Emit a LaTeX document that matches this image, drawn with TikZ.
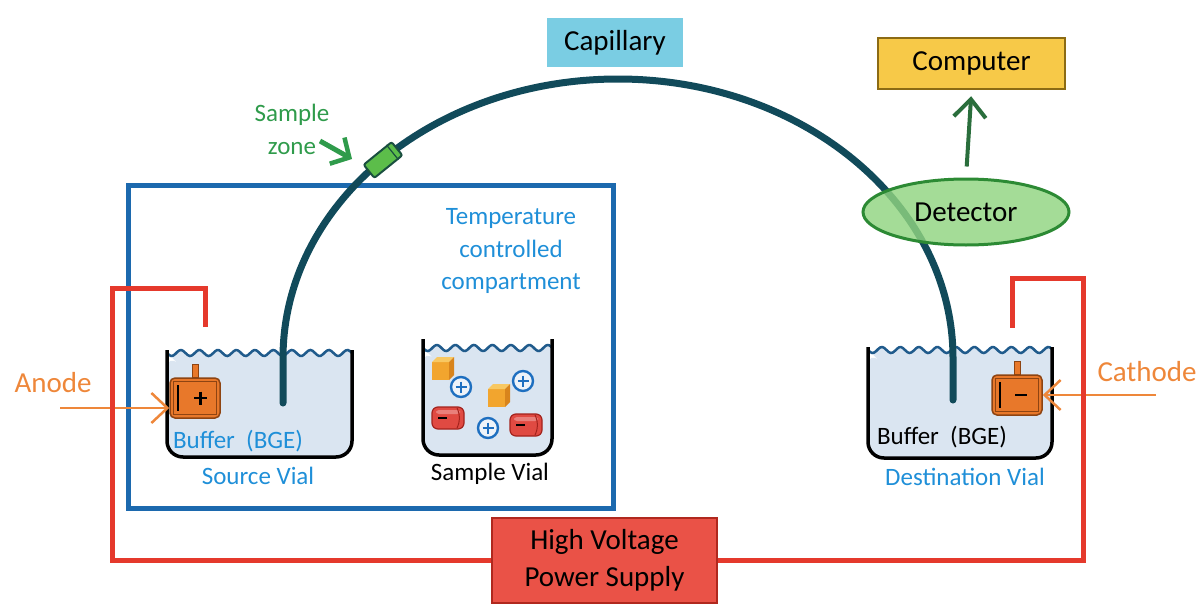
\documentclass[tikz,border=0pt]{standalone}
\usepackage{fontspec}
\setmainfont{Carlito}
\usetikzlibrary{arrows.meta,shapes.geometric,calc}

\definecolor{capline}{HTML}{114A5A}
\definecolor{capbox}{HTML}{7ACDE3}
\definecolor{compfill}{HTML}{F7C948}
\definecolor{compdraw}{HTML}{8C6B14}
\definecolor{detfill}{HTML}{90D480}
\definecolor{detdraw}{HTML}{2C8A34}
\definecolor{arrowgreen}{HTML}{2A6E3C}
\definecolor{wirered}{HTML}{E5392C}
\definecolor{hvfill}{HTML}{EA5247}
\definecolor{hvdraw}{HTML}{B0281E}
\definecolor{compblue}{HTML}{1C69AE}
\definecolor{textblue}{HTML}{1F8FD8}
\definecolor{textorange}{HTML}{EE873A}
\definecolor{electrodefill}{HTML}{E8782A}
\definecolor{electrodedraw}{HTML}{8E4412}
\definecolor{zonegreen}{HTML}{2F9B4B}
\definecolor{zonefill}{HTML}{5CBD4A}
\definecolor{zonedraw}{HTML}{1A4F40}
\definecolor{vialfill}{HTML}{DAE5F1}
\definecolor{wavecol}{HTML}{205B8C}
\definecolor{plusblue}{HTML}{1E6FC0}
\definecolor{minusred}{HTML}{E04A42}
\definecolor{minusdark}{HTML}{A3231D}
\definecolor{cubefront}{HTML}{F2A52E}
\definecolor{cubetop}{HTML}{F8C862}
\definecolor{cubeside}{HTML}{D8841C}

\begin{document}
\begin{tikzpicture}[x=1pt,y=-1pt,
  lbl/.style={font=\fontsize{29}{34}\selectfont, text=black},
  sml/.style={font=\fontsize{25}{30}\selectfont},
  labelbox/.style={lbl, rectangle, inner sep=0, align=center},
  electrodebox/.style={draw=electrodedraw, fill=electrodefill, line width=1.5,
    rounded corners=5, minimum width=50, minimum height=40, inner sep=0},
  wire/.style={draw=wirered, line width=5},
  vialwall/.style={draw=black, line width=3.5},
  wave/.style={draw=wavecol, line width=2.5},
  capillary/.style={draw=capline, line width=7, line cap=round},
  orangearrow/.style={draw=textorange, line width=2.5, -{Straight Barb[length=16pt,width=30pt,line width=2.5pt]}},
  cubepic/.pic={
    \fill[cubefront] (-10,-7) rectangle (7,11);
    \fill[cubetop] (-10,-7) -- (-5,-12) -- (12,-12) -- (7,-7) -- cycle;
    \fill[cubeside] (7,-7) -- (12,-12) -- (12,6) -- (7,11) -- cycle;
  },
  pluspic/.pic={
    \draw[plusblue, line width=2.4, fill=white!55!vialfill] (0,0) circle (10);
    \draw[plusblue, line width=2.6] (-5.5,0) -- (5.5,0) (0,-5.5) -- (0,5.5);
  },
  minuspic/.pic={
    \filldraw[draw=minusdark, fill=minusred, line width=1.2, rounded corners=6] (-16,-11) rectangle (16,11);
    \fill[white, opacity=.3, rounded corners=3] (-12,-8) rectangle (12,-4);
    \draw[minusdark, line width=1] (9,-10) to[bend left=25] (9,10);
    \draw[black, line width=2.4] (-10,0) -- (-1,0);
  }
]
\useasboundingbox (0,0) rectangle (1200,608);

% temperature controlled compartment
\node[draw=compblue, line width=5, minimum width=485, minimum height=323, inner sep=0] (compartment) at (370.5,346.5) {};
\node[sml, text=textblue, align=center, font=\fontsize{25}{32.5}\selectfont] (templbl) at (511,251)
  {Temperature\\controlled\\compartment};

% vials: liquid, surface wave and walls (wave period 18.5)
\foreach \L/\R/\T/\W/\B in {167/352/350/353/457, 423/552/339/348/455, 868/1052/347/350/458}{
  \fill[vialfill] plot[domain=\L:\R, samples=90] (\x, {\W+3*sin((\x-\L)*19.46)})
    [rounded corners=16] -- (\R,\B) -- (\L,\B) -- cycle;
  \draw[wave] plot[domain=\L:\R, samples=90] (\x, {\W+3*sin((\x-\L)*19.46)});
  \draw[vialwall] (\L,\T) [rounded corners=16] -- (\L,\B) -- (\R,\B) -- (\R,\T);
}

% sample vial contents
\pic at (442,369) {cubepic};
\pic at (498,396) {cubepic};
\pic at (461,387) {pluspic};
\pic at (523,381) {pluspic};
\pic at (488,428) {pluspic};
\pic at (448,418) {minuspic};
\pic at (526,425) {minuspic};

% vial labels
\node[sml, text=textblue] (srcbuf) at (238,441) {Buffer\ \ (BGE)};
\node[sml, text=textblue] (srclbl) at (258,476) {Source Vial};
\node[sml, text=black] (smplbl) at (490,474) {Sample Vial};
\node[sml, text=black] (dstbuf) at (942,437) {Buffer\ \ (BGE)};
\node[sml, text=textblue] (dstlbl) at (965,477) {Destination Vial};

% electrodes
\node[electrodebox] (anode) at (195,398) {};
\node[electrodebox] (cathode) at (1017,395) {};
\foreach \e in {anode,cathode}{
  \fill[electrodefill, draw=electrodedraw, line width=1] ($(\e.north)+(-3,0)$) rectangle ++(6,-13);
  \draw[electrodedraw, line width=1] ($(\e.south west)+(4,-4)$) rectangle ($(\e.north east)+(-4,4)$);
  \draw[black, line width=1.8] ($(\e.west)+(9,-13)$) -- ($(\e.west)+(9,13)$);
}
\draw[black, line width=2.4] ($(anode.center)+(-1,0)$) -- ++(13,0) ($(anode.center)+(5.5,-6.5)$) -- ++(0,13);
\draw[black, line width=2.6] ($(cathode.center)+(-2,0)$) -- ++(12,0);

% electrode labels and pointers
\node[lbl, text=textorange] (anodelbl) at (53,383) {Anode};
\node[lbl, text=textorange] (cathodelbl) at (1147,372) {Cathode};
\coordinate (anodetail) at (60,408);
\coordinate (cathodetail) at (1156,395);
\draw[orangearrow] (anodetail) -- (anodetail -| anode.west);
\draw[orangearrow] (cathodetail) -- (cathode.east);

% high voltage power supply and wiring
\node[labelbox, fill=hvfill, draw=hvdraw, line width=2.5, minimum width=225, minimum height=85,
  font=\fontsize{29}{37}\selectfont] (hv) at (604.5,560.5) {High Voltage\\Power Supply};
\coordinate (anodewire) at (205,327);
\coordinate (cathodewire) at (1012,328);
\draw[wire] (anodewire) |- (112,288) |- (hv.west);
\draw[wire] (hv.east) -| (1083,278) -| (cathodewire);

% capillary
\draw[capillary] (283,403) -- (283,358) arc[start angle=180, end angle=360, x radius=335, y radius=279] -- (953,400);

% sample zone on the capillary
\node[rectangle, rotate=39, minimum width=36, minimum height=17, inner sep=0, fill=zonefill,
  draw=zonedraw, line width=2, rounded corners=2] (zone) at (383,160) {};
\draw[zonedraw, line width=1.2] ($(zone.north east)!.18!(zone.north west)$) -- ($(zone.south east)!.18!(zone.south west)$);
\node[sml, text=zonegreen, align=center, font=\fontsize{25}{33}\selectfont] (zonelbl) at (292,129) {Sample\\zone};
\coordinate (zonetail) at (320,141);
\coordinate (zonetip) at (352,159);
\draw[zonegreen, line width=5, -{Straight Barb[length=14pt,width=30pt,line width=4.5pt]}] (zonetail) -- (zonetip);

% capillary label
\node[labelbox, fill=capbox, minimum width=136, minimum height=49] (caplbl) at (615,42.5) {Capillary};

% detector and computer
\node[ellipse, fill=detfill, fill opacity=.82, text opacity=1, draw=detdraw, line width=3,
  minimum width=206, minimum height=66, inner sep=0, lbl] (detector) at (966,212) {Detector};
\node[labelbox, fill=compfill, draw=compdraw, line width=2.5, minimum width=187, minimum height=51] (computer) at (971.5,63.5) {Computer};
\draw[arrowgreen, line width=4, shorten <=11pt, shorten >=6pt, -{Straight Barb[length=18pt,width=32pt,line width=4pt]}]
  (detector.north) -- (computer.south);
\end{tikzpicture}
\end{document}
